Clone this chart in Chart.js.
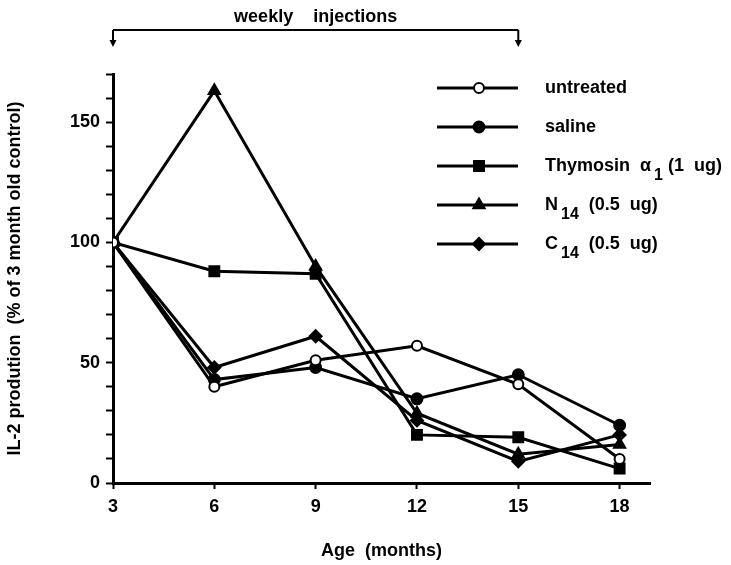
<!DOCTYPE html>
<html>
<head>
<meta charset="utf-8">
<title>IL-2 production</title>
<script src="https://cdn.jsdelivr.net/npm/chart.js@4/dist/chart.umd.min.js"></script>
<style>
  body { margin: 0; background: #fff; }
  #wrap { width: 731px; height: 565px; }
</style>
</head>
<body>
<div id="wrap"><canvas id="chart" width="731" height="565"></canvas></div>
<script>
// ages in months
const ages = [3, 6, 9, 12, 15, 18];
const xTicks = [3, 6, 9, 12, 15, 18];

// IL-2 production, % of 3 month old control
const untreated = [100, 40, 51, 57, 41, 10];
const saline = [100, 43, 48, 35, 45, 24];
const thymosin = [100, 88, 87, 20, 19, 6];
const n14 = [100, 163, 90, 29, 12, 16];
const c14 = [100, 48, 61, 26, 9, 20];

// legend text; {sub: ...} parts are subscripts
const seriesLabels = [
  ['untreated'],
  ['saline'],
  ['Thymosin  \u03b1', { sub: '1' }, ' (1  ug)'],
  ['N', { sub: '14' }, '  (0.5  ug)'],
  ['C', { sub: '14' }, '  (0.5  ug)'],
];

const injectionStart = 3;
const injectionEnd = 15;
const injectionLabel = 'weekly    injections';

const FONT = "'Liberation Sans', Arial, Helvetica, sans-serif";

function series(data, style, radius, fill) {
  return {
    data: data.map((v, i) => ({ x: ages[i], y: v })),
    borderColor: '#000',
    borderWidth: 3,
    pointStyle: style,
    pointRadius: radius,
    pointBackgroundColor: fill,
    pointBorderColor: '#000',
    pointBorderWidth: 2,
    tension: 0,
  };
}

const datasets = [
  series(untreated, 'circle', 5, '#fff'),
  series(saline, 'circle', 5.5, '#000'),
  series(thymosin, 'rect', 7, '#000'),
  series(n14, 'triangle', 6.5, '#000'),
  series(c14, 'rectRot', 6, '#000'),
];

const bracketPlugin = {
  id: 'bracket',
  afterDraw(chart) {
    const ctx = chart.ctx;
    const x0 = chart.scales.x.getPixelForValue(injectionStart);
    const x1 = chart.scales.x.getPixelForValue(injectionEnd);
    const y = 30;
    ctx.save();
    ctx.strokeStyle = '#000';
    ctx.fillStyle = '#000';
    ctx.lineWidth = 2;
    ctx.beginPath();
    ctx.moveTo(x0, y);
    ctx.lineTo(x1, y);
    ctx.moveTo(x0, y);
    ctx.lineTo(x0, y + 12);
    ctx.moveTo(x1, y);
    ctx.lineTo(x1, y + 12);
    ctx.stroke();
    [x0, x1].forEach(x => {
      ctx.beginPath();
      ctx.moveTo(x - 3.5, y + 10);
      ctx.lineTo(x + 3.5, y + 10);
      ctx.lineTo(x, y + 17);
      ctx.closePath();
      ctx.fill();
    });
    ctx.font = 'bold 18px ' + FONT;
    ctx.textAlign = 'center';
    ctx.textBaseline = 'middle';
    ctx.fillText(injectionLabel, (x0 + x1) / 2, 17);
    ctx.restore();
  },
};

const legendPlugin = {
  id: 'sideLegend',
  afterDraw(chart) {
    const ctx = chart.ctx;
    ctx.save();
    chart.data.datasets.forEach((ds, i) => {
      const y = 88 + i * 39;
      ctx.strokeStyle = '#000';
      ctx.lineWidth = 3;
      ctx.beginPath();
      ctx.moveTo(437, y);
      ctx.lineTo(518, y);
      ctx.stroke();
      ctx.fillStyle = ds.pointBackgroundColor;
      ctx.lineWidth = 2;
      Chart.helpers.drawPoint(ctx, {
        pointStyle: ds.pointStyle,
        radius: ds.pointRadius,
        rotation: 0,
        borderWidth: 2,
      }, 479, y);

      ctx.fillStyle = '#000';
      ctx.textAlign = 'left';
      ctx.textBaseline = 'middle';
      let x = 545;
      seriesLabels[i].forEach(part => {
        if (typeof part === 'string') {
          ctx.font = 'bold 18px ' + FONT;
          ctx.fillText(part, x, y);
          x += ctx.measureText(part).width;
        } else {
          ctx.font = 'bold 16px ' + FONT;
          ctx.fillText(part.sub, x + 3, y + 10);
          x += ctx.measureText(part.sub).width + 3;
        }
      });
    });
    ctx.restore();
  },
};

Chart.defaults.font.family = FONT;
Chart.defaults.font.size = 18;
Chart.defaults.font.weight = 'bold';
Chart.defaults.color = '#000';

new Chart(document.getElementById('chart'), {
  type: 'line',
  data: { datasets },
  options: {
    responsive: false,
    animation: false,
    layout: { padding: { top: 74, right: 81, left: 0, bottom: 0 } },
    plugins: {
      legend: { display: false },
      tooltip: { enabled: false },
    },
    scales: {
      x: {
        type: 'linear',
        min: 3,
        max: 18.9,
        afterBuildTicks: scale => {
          scale.ticks = xTicks.map(v => ({ value: v }));
        },
        afterFit: scale => { scale.height = 82; },
        grid: {
          drawOnChartArea: false,
          color: '#000',
          tickLength: 6,
          tickWidth: 2,
        },
        border: { color: '#000', width: 3 },
        ticks: { padding: 7, maxRotation: 0 },
        title: {
          display: true,
          text: 'Age  (months)',
          padding: { top: 0, bottom: 3 },
        },
      },
      y: {
        min: 0,
        max: 170,
        afterFit: scale => { scale.width = 113; },
        grid: {
          drawOnChartArea: false,
          color: '#000',
          tickLength: 7,
          tickWidth: 2,
        },
        border: { color: '#000', width: 3 },
        ticks: {
          stepSize: 10,
          padding: 6,
          autoSkip: false,
          callback: v => (v % 50 === 0 ? v : ''),
        },
        title: {
          display: true,
          text: 'IL-2 prodution  (% of 3 month old control)',
          padding: { top: 4, bottom: 0 },
        },
      },
    },
  },
  plugins: [bracketPlugin, legendPlugin],
});
</script>
</body>
</html>
